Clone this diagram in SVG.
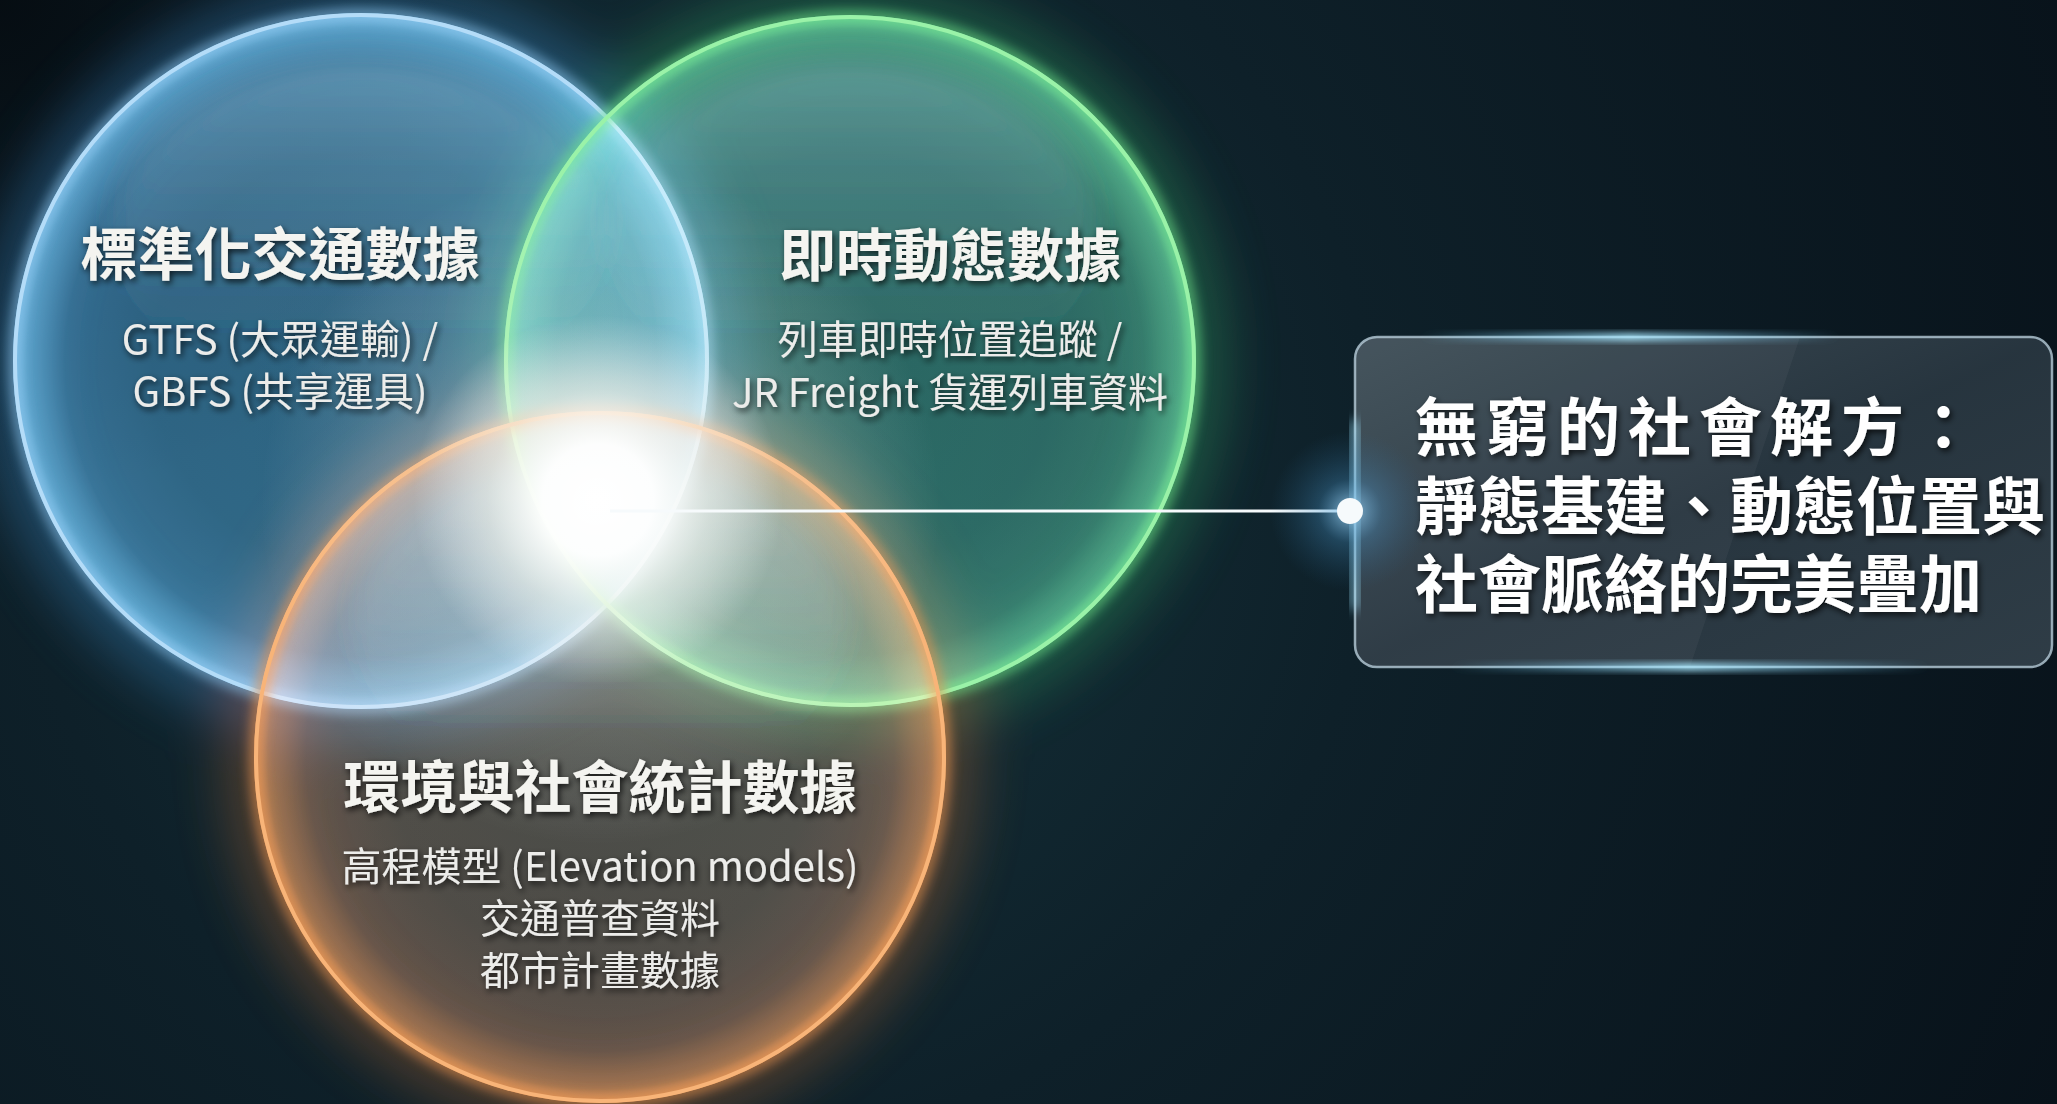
<svg xmlns="http://www.w3.org/2000/svg" width="2057" height="1104" viewBox="0 0 2057 1104">
<defs>
  <radialGradient id="bg" cx="700" cy="480" r="1500" gradientUnits="userSpaceOnUse">
    <stop offset="0" stop-color="#16343c"/>
    <stop offset="0.45" stop-color="#0e2029"/>
    <stop offset="1" stop-color="#08121a"/>
  </radialGradient>
  <radialGradient id="bgTL" cx="0" cy="0" r="500" gradientUnits="userSpaceOnUse">
    <stop offset="0" stop-color="#050b10" stop-opacity="0.9"/>
    <stop offset="1" stop-color="#050b10" stop-opacity="0"/>
  </radialGradient>
  <radialGradient id="fillBlue" cx="0.5" cy="0.5" r="0.5">
    <stop offset="0" stop-color="#1d4562"/>
    <stop offset="0.6" stop-color="#214c6a"/>
    <stop offset="0.85" stop-color="#2b5b7e"/>
    <stop offset="0.96" stop-color="#4884ae"/>
    <stop offset="1" stop-color="#6aa4d0"/>
  </radialGradient>
  <radialGradient id="fillGreen" cx="0.5" cy="0.5" r="0.5">
    <stop offset="0" stop-color="#184538"/>
    <stop offset="0.6" stop-color="#1c4c3e"/>
    <stop offset="0.85" stop-color="#265e48"/>
    <stop offset="0.96" stop-color="#3c8460"/>
    <stop offset="1" stop-color="#58b07a"/>
  </radialGradient>
  <radialGradient id="fillOrange" cx="0.5" cy="0.5" r="0.5">
    <stop offset="0" stop-color="#3c291b"/>
    <stop offset="0.6" stop-color="#432e1f"/>
    <stop offset="0.85" stop-color="#573724"/>
    <stop offset="0.96" stop-color="#84502c"/>
    <stop offset="1" stop-color="#bc703a"/>
  </radialGradient>
  <linearGradient id="hiLite" x1="0" y1="0" x2="0" y2="1">
    <stop offset="0" stop-color="#34404a" stop-opacity="1"/>
    <stop offset="0.55" stop-color="#20282e" stop-opacity="0.6"/>
    <stop offset="1" stop-color="#000" stop-opacity="0"/>
  </linearGradient>
  <radialGradient id="coreGlow" cx="0.5" cy="0.5" r="0.5">
    <stop offset="0" stop-color="#ffffff" stop-opacity="1"/>
    <stop offset="0.3" stop-color="#ffffff" stop-opacity="0.95"/>
    <stop offset="0.6" stop-color="#f6f6f0" stop-opacity="0.5"/>
    <stop offset="1" stop-color="#ffffff" stop-opacity="0"/>
  </radialGradient>
  <radialGradient id="softGlow" cx="0.5" cy="0.5" r="0.5">
    <stop offset="0" stop-color="#ffffff" stop-opacity="0.6"/>
    <stop offset="0.5" stop-color="#eef2ea" stop-opacity="0.22"/>
    <stop offset="1" stop-color="#ffffff" stop-opacity="0"/>
  </radialGradient>
  <radialGradient id="dotGlow" cx="0.5" cy="0.5" r="0.5">
    <stop offset="0" stop-color="#a8deff" stop-opacity="0.8"/>
    <stop offset="0.4" stop-color="#4a9ad0" stop-opacity="0.3"/>
    <stop offset="1" stop-color="#2a6a9a" stop-opacity="0"/>
  </radialGradient>
  <linearGradient id="boxFill" x1="0" y1="0" x2="1" y2="1">
    <stop offset="0" stop-color="#44535d"/>
    <stop offset="0.5" stop-color="#2a3842"/>
    <stop offset="1" stop-color="#33414b"/>
  </linearGradient>
  <linearGradient id="edgeGlowH" x1="0" y1="0" x2="1" y2="0">
    <stop offset="0" stop-color="#7fd6ff" stop-opacity="0"/>
    <stop offset="0.5" stop-color="#a8e8ff" stop-opacity="1"/>
    <stop offset="1" stop-color="#7fd6ff" stop-opacity="0"/>
  </linearGradient>
  <filter id="blur14" x="-20%" y="-20%" width="140%" height="140%"><feGaussianBlur stdDeviation="14"/></filter>
  <filter id="blur6" x="-20%" y="-20%" width="140%" height="140%"><feGaussianBlur stdDeviation="6"/></filter>
  <filter id="blur3" x="-50%" y="-50%" width="200%" height="200%"><feGaussianBlur stdDeviation="3"/></filter>
  <filter id="blurBig" x="-50%" y="-50%" width="200%" height="200%"><feGaussianBlur stdDeviation="30"/></filter>
  <filter id="txtShadow" x="-10%" y="-30%" width="120%" height="160%">
    <feDropShadow dx="2" dy="3" stdDeviation="3" flood-color="#000" flood-opacity="0.75"/>
  </filter>
  <style>
    .t { font-family: "Noto Sans CJK TC", "Noto Sans CJK SC", "Noto Sans", sans-serif; fill: #f4f4f0; filter: url(#txtShadow); }
    .title { font-size: 57px; font-weight: 700; text-anchor: middle; }
    .sub { font-size: 40px; font-weight: 400; text-anchor: middle; fill: #ececea; }
    .box { font-size: 63px; font-weight: 700; fill: #ffffff; }
    .bubble { mix-blend-mode: screen; }
  </style>
</defs>

<!-- background -->
<rect width="2057" height="1104" fill="url(#bg)"/>
<rect width="2057" height="1104" fill="url(#bgTL)"/>

<!-- outer halos -->
<g id="halos" filter="url(#blurBig)" opacity="0.6">
  <circle cx="361" cy="361" r="350" fill="none" stroke="#3a8ac8" stroke-width="40"/>
  <circle cx="850" cy="361" r="346" fill="none" stroke="#2fa060" stroke-width="40"/>
  <circle cx="600" cy="757" r="346" fill="none" stroke="#c06a30" stroke-width="36"/>
</g>

<!-- node: blue -->
<g id="node-standard">
  <circle class="bubble" cx="361" cy="361" r="348" fill="url(#fillBlue)"/>
  <ellipse class="bubble" cx="361" cy="230" rx="250" ry="170" fill="url(#hiLite)" filter="url(#blur14)"/>
  <circle cx="361" cy="361" r="346" fill="none" stroke="#8cc8f2" stroke-width="14" opacity="0.6" filter="url(#blur6)"/>
  <circle cx="361" cy="361" r="346" fill="none" stroke="#b4dcf8" stroke-width="4"/>
</g>

<!-- node: green -->
<g id="node-realtime">
  <circle class="bubble" cx="850" cy="361" r="346" fill="url(#fillGreen)"/>
  <ellipse class="bubble" cx="850" cy="230" rx="248" ry="170" fill="url(#hiLite)" filter="url(#blur14)"/>
  <circle cx="850" cy="361" r="344" fill="none" stroke="#6ee68a" stroke-width="14" opacity="0.6" filter="url(#blur6)"/>
  <circle cx="850" cy="361" r="344" fill="none" stroke="#9af2a8" stroke-width="4"/>
</g>

<!-- node: orange -->
<g id="node-social">
  <circle class="bubble" cx="600" cy="757" r="346" fill="url(#fillOrange)"/>
  <ellipse class="bubble" cx="600" cy="625" rx="248" ry="170" fill="url(#hiLite)" filter="url(#blur14)"/>
  <circle cx="600" cy="757" r="344" fill="none" stroke="#f09650" stroke-width="14" opacity="0.6" filter="url(#blur6)"/>
  <circle cx="600" cy="757" r="344" fill="none" stroke="#f8b478" stroke-width="4"/>
</g>

<!-- central glow -->
<g id="core">
  <circle cx="600" cy="505" r="340" fill="url(#softGlow)"/>
  <circle cx="598" cy="500" r="185" fill="url(#coreGlow)"/>
</g>

<!-- connectors -->
<g id="connectors">
  <line x1="610" y1="511" x2="1345" y2="511" stroke="#bfe6ff" stroke-width="9" opacity="0.5" filter="url(#blur3)"/>
  <line x1="610" y1="511" x2="1345" y2="511" stroke="#f6fafc" stroke-width="3"/>
</g>

<!-- node: summary box -->
<g id="node-summary">
  <rect x="1355" y="337" width="697" height="330" rx="22" fill="url(#boxFill)" opacity="0.9"/>
  <path d="M1377,337 L1800,337 L1690,667 L1377,667 Q1355,667 1355,645 L1355,359 Q1355,337 1377,337 Z" fill="#ffffff" opacity="0.04"/>
  <rect x="1355" y="337" width="697" height="330" rx="22" fill="none" stroke="#b6ccd8" stroke-width="2.5" opacity="0.8"/>
  <rect x="1420" y="333" width="420" height="8" fill="url(#edgeGlowH)" filter="url(#blur3)" opacity="0.9"/>
  <rect x="1450" y="663" width="480" height="8" fill="url(#edgeGlowH)" filter="url(#blur3)" opacity="0.9"/>
  <rect x="1351" y="420" width="8" height="190" fill="#9fe4ff" filter="url(#blur6)" opacity="0.7"/>
  <circle cx="1350" cy="511" r="80" fill="url(#dotGlow)"/>
  <circle cx="1350" cy="511" r="13" fill="#f6fafc"/>
  <text class="t box" x="1415" y="450" letter-spacing="8">無窮的社會解方：</text>
  <text class="t box" x="1415" y="529">靜態基建、動態位置與</text>
  <text class="t box" x="1415" y="607">社會脈絡的完美疊加</text>
</g>

<!-- labels -->
<g id="label-standard">
  <text class="t title" x="280" y="275">標準化交通數據</text>
  <text class="t sub" x="280" y="354">GTFS (大眾運輸) /</text>
  <text class="t sub" x="280" y="406">GBFS (共享運具)</text>
</g>
<g id="label-realtime">
  <text class="t title" x="950" y="276">即時動態數據</text>
  <text class="t sub" x="950" y="354">列車即時位置追蹤 /</text>
  <text class="t sub" x="950" y="407">JR Freight 貨運列車資料</text>
</g>
<g id="label-social">
  <text class="t title" x="600" y="808">環境與社會統計數據</text>
  <text class="t sub" x="600" y="881">高程模型 (Elevation models)</text>
  <text class="t sub" x="600" y="933">交通普查資料</text>
  <text class="t sub" x="600" y="985">都市計畫數據</text>
</g>
</svg>
